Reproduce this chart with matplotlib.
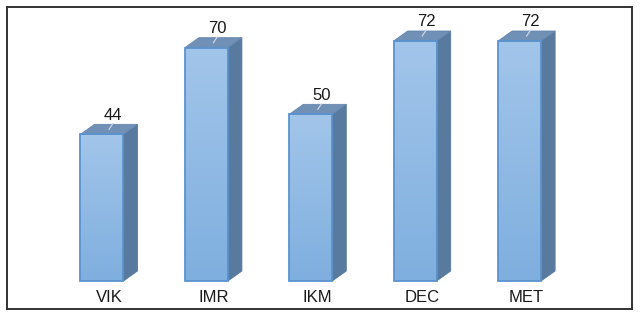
import matplotlib
matplotlib.use("Agg")
import matplotlib.pyplot as plt
import numpy as np
from matplotlib.patches import Polygon
from matplotlib.colors import LinearSegmentedColormap

categories = ["VIK", "IMR", "IKM", "DEC", "MET"]
values = [44, 70, 50, 72, 72]

plt.rcParams['font.family'] = ['Liberation Sans', 'DejaVu Sans']

W, H = 642, 317
fig = plt.figure(figsize=(W / 100, H / 100), dpi=100)
left_px, right_px, top_px, bot_px = 7, 632, 7, 309
ax = fig.add_axes([left_px / W, (H - bot_px) / H, (right_px - left_px) / W, (bot_px - top_px) / H])

base_px = 281
ppy = 240 / 72.0
x0_px, step_px = 102, 104.4
ax.set_xlim((left_px - x0_px) / step_px, (right_px - x0_px) / step_px)
ax.set_ylim(-(bot_px - base_px) / ppy, (base_px - top_px) / ppy)

bw = 43 / step_px
dx = 14 / step_px
dy = 10 / ppy

cmap = LinearSegmentedColormap.from_list("g", ["#7fafdf", "#a2c5ea"])
grad = np.linspace(0, 1, 100).reshape(-1, 1)

x = np.arange(len(categories))
bars = ax.bar(x, values, width=bw, color="none", edgecolor="#5b93cf", linewidth=1.3, zorder=3)
for xi, v, b, cat in zip(x, values, bars, categories):
    l, r = xi - bw / 2, xi + bw / 2
    im = ax.imshow(grad, extent=[l, r, 0, v], origin="lower", cmap=cmap, aspect="auto", zorder=2)
    im.set_clip_path(b)
    side = Polygon([[r, 0], [r + dx, dy], [r + dx, v + dy], [r, v]], closed=True,
                   facecolor="#587a9f", edgecolor="#587a9f", linewidth=0.6, zorder=2)
    ax.add_patch(side)
    top = Polygon([[l, v], [l + dx, v + dy], [r + dx, v + dy], [r, v]], closed=True,
                  facecolor="#7090b6", edgecolor="#6687ad", linewidth=0.6, zorder=2)
    ax.add_patch(top)
    cx, cy = xi + dx / 2, v + dy / 2
    ax.plot([cx, cx + 4 / step_px], [cy, v + 11 / ppy], color="#d8dde3", linewidth=0.8, zorder=4)
    ax.text(cx + 4 / step_px, v + 11.5 / ppy, str(v), ha="center", va="bottom", fontsize=12,
            color="#1a1a1a", zorder=5)
    ax.text(xi + dx / 2, -16.5 / ppy, cat, ha="center", va="center",
            fontsize=12, color="#1a1a1a")

ax.set_xticks([])
ax.set_yticks([])
for s in ax.spines.values():
    s.set_color("#333333")
    s.set_linewidth(1.4)

fig.savefig("out.png", dpi=100)
